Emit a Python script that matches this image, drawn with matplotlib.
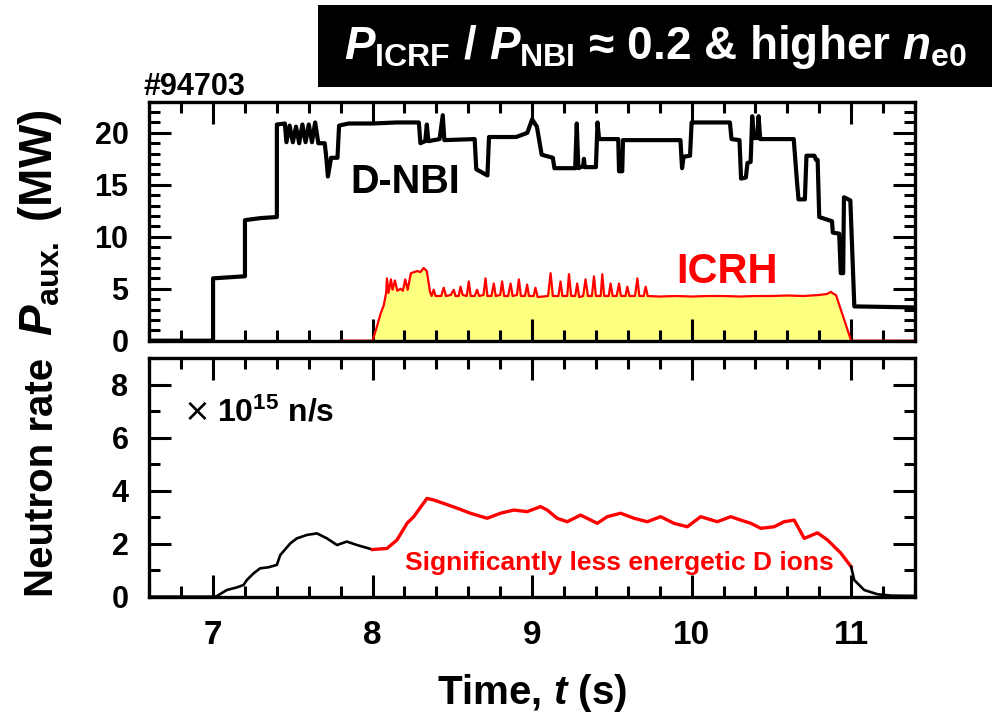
import matplotlib
matplotlib.use('Agg')
import matplotlib.pyplot as plt
from matplotlib import font_manager
from matplotlib.patches import Rectangle
from matplotlib.ticker import MultipleLocator

names = {f.name for f in font_manager.fontManager.ttflist}
FONT = 'Liberation Sans' if 'Liberation Sans' in names else 'DejaVu Sans'

plt.rcParams.update({
    'font.family': [FONT, 'DejaVu Sans'],
    'font.weight': 'bold',
    'axes.labelweight': 'bold',
    'mathtext.fontset': 'custom',
    'mathtext.rm': f'{FONT}:bold',
    'mathtext.it': f'{FONT}:italic:bold',
    'mathtext.bf': f'{FONT}:bold',
    'mathtext.sf': f'{FONT}:bold',
    'axes.linewidth': 2.4,
})

# ---------------- data ----------------
shot = '#94703'

nbi_t = [6.60, 7.00, 7.00, 7.10, 7.20, 7.20, 7.30, 7.40, 7.40, 7.45, 7.46, 7.48, 7.50,
         7.52, 7.54, 7.56, 7.58, 7.60, 7.62, 7.64, 7.66, 7.70, 7.71, 7.72, 7.74, 7.78,
         7.79, 7.85, 8.00, 8.15, 8.29, 8.30, 8.33, 8.34, 8.35, 8.42, 8.44, 8.45, 8.64,
         8.65, 8.72, 8.73, 8.90, 8.97, 9.00, 9.03, 9.06, 9.13, 9.14, 9.27, 9.28, 9.29,
         9.32, 9.325, 9.33, 9.40, 9.41, 9.42, 9.54, 9.545, 9.565, 9.57, 9.93, 9.94,
         9.95, 9.99, 10.00, 10.24, 10.25, 10.30, 10.31, 10.34, 10.35, 10.37, 10.38,
         10.39, 10.41, 10.42, 10.43, 10.64, 10.66, 10.67, 10.71, 10.72, 10.77, 10.78,
         10.79, 10.80, 10.88, 10.885, 10.925, 10.935, 10.95, 10.955, 10.995, 11.02, 11.40]
nbi_p = [0.0, 0.0, 6.0, 6.1, 6.2, 11.6, 11.8, 11.9, 20.8, 20.9, 19.1, 20.7, 19.1,
         20.6, 19.0, 20.8, 19.1, 20.8, 19.1, 21.0, 19.0, 19.0, 17.6, 15.8, 17.6, 17.6,
         20.7, 20.9, 20.9, 21.0, 21.0, 19.0, 19.2, 20.8, 19.2, 19.4, 21.7, 19.3, 19.4,
         16.5, 15.9, 19.6, 19.6, 20.0, 21.3, 20.6, 17.9, 17.6, 16.6, 16.6, 20.9, 16.6,
         16.8, 17.5, 16.7, 16.7, 21.0, 19.4, 19.4, 16.3, 16.3, 19.3, 19.3, 16.6,
         17.7, 17.8, 21.0, 21.0, 19.4, 19.3, 15.6, 15.7, 17.1, 17.2, 21.6,
         19.5, 19.5, 21.6, 19.4, 19.4, 15.4, 13.6, 13.6, 17.8, 17.8, 17.4,
         17.4, 11.9, 11.5, 10.4, 10.3, 6.5, 6.5, 13.8, 13.5, 3.3, 3.2]

icrh_t = [7.80, 8.00, 8.03, 8.05, 8.07, 8.085, 8.09, 8.10, 8.115, 8.125, 8.14, 8.155,
          8.175, 8.19, 8.205, 8.22, 8.24, 8.26, 8.28, 8.30, 8.32, 8.34, 8.36, 8.37,
          8.383, 8.395, 8.43, 8.446, 8.46, 8.49, 8.509, 8.52, 8.54, 8.551, 8.565,
          8.59, 8.603, 8.615, 8.64, 8.655, 8.668, 8.695, 8.708, 8.72, 8.745, 8.760,
          8.772, 8.80, 8.812, 8.825, 8.85, 8.865, 8.878, 8.905, 8.917, 8.93, 8.955,
          8.969, 8.98, 9.01, 9.021, 9.035, 9.10, 9.116, 9.13, 9.165, 9.178, 9.19,
          9.22, 9.231, 9.245, 9.27, 9.283, 9.295, 9.32, 9.335, 9.35, 9.375, 9.388,
          9.40, 9.43, 9.440, 9.452, 9.48, 9.492, 9.505, 9.53, 9.545, 9.557, 9.585,
          9.597, 9.61, 9.645, 9.660, 9.672, 9.70, 9.712, 9.725, 9.80, 9.90, 10.00,
          10.10, 10.20, 10.30, 10.40, 10.50, 10.60, 10.70, 10.80, 10.85, 10.873,
          10.89, 10.905, 11.00, 11.40]
icrh_p = [0.0, 0.0, 1.5, 2.6, 3.4, 4.6, 6.0, 4.6, 5.9, 4.9, 5.8, 4.8,
          5.0, 4.8, 5.9, 4.9, 6.5, 6.6, 6.7, 6.6, 7.0, 6.7, 4.7, 4.3,
          4.9, 4.3, 4.3, 5.1, 4.3, 4.4, 4.9, 4.3, 4.3, 5.2, 4.4,
          4.3, 5.7, 4.3, 4.3, 4.9, 4.3, 4.4, 6.0, 4.3, 4.3, 5.5,
          4.3, 4.4, 5.7, 4.3, 4.3, 5.5, 4.3, 4.4, 5.9, 4.3, 4.3,
          5.4, 4.3, 4.3, 5.1, 4.2, 4.3, 6.5, 4.3, 4.3, 5.7, 4.3,
          4.3, 6.4, 4.3, 4.3, 5.5, 4.2, 4.3, 5.9, 4.3, 4.3, 6.2,
          4.3, 4.3, 6.4, 4.3, 4.3, 5.5, 4.3, 4.3, 5.5, 4.3, 4.3,
          5.2, 4.3, 4.3, 6.0, 4.3, 4.3, 5.2, 4.3, 4.25, 4.3, 4.25,
          4.3, 4.3, 4.25, 4.3, 4.3, 4.35, 4.3, 4.4, 4.5, 4.7,
          4.5, 4.4, 0.0, 0.0]

# neutron rate (x 1e15 n/s): NBI-only phase, ICRH phase, after
neut_pre_t = [6.60, 7.013, 7.023, 7.086, 7.149, 7.191, 7.212, 7.254, 7.295, 7.348, 7.400,
              7.421, 7.484, 7.525, 7.588, 7.651, 7.714, 7.777, 7.839, 7.902, 8.00]
neut_pre = [0.0, 0.0, 0.02, 0.25, 0.35, 0.44, 0.63, 0.88, 1.07, 1.11, 1.20,
            1.57, 2.01, 2.20, 2.33, 2.39, 2.20, 1.95, 2.08, 1.95, 1.78]
neut_icrh_t = [8.00, 8.09, 8.153, 8.216, 8.258, 8.341, 8.383, 8.446, 8.530, 8.613, 8.718,
               8.802, 8.885, 8.969, 9.053, 9.095, 9.157, 9.220, 9.304, 9.409, 9.471,
               9.555, 9.639, 9.722, 9.806, 9.889, 9.973, 10.057, 10.161, 10.245, 10.308,
               10.371, 10.434, 10.517, 10.580, 10.643, 10.706, 10.789, 10.852, 10.936, 11.00]
neut_icrh = [1.78, 1.82, 2.14, 2.77, 3.02, 3.71, 3.65, 3.52, 3.34, 3.15, 2.96,
             3.15, 3.27, 3.21, 3.40, 3.27, 2.96, 2.83, 3.08, 2.77, 3.02,
             3.15, 2.96, 2.83, 3.02, 2.77, 2.64, 3.02, 2.83, 3.02, 2.89,
             2.77, 2.58, 2.64, 2.83, 2.89, 2.20, 2.41, 2.14, 1.64, 1.13]
neut_post_t = [11.00, 11.019, 11.082, 11.166, 11.250, 11.40]
neut_post = [1.13, 0.63, 0.25, 0.09, 0.04, 0.03]

# ---------------- figure ----------------
fig = plt.figure(figsize=(9.97, 7.15), dpi=100)
ax1 = fig.add_axes([0.1497, 0.5235, 0.768, 0.3343])
ax2 = fig.add_axes([0.1497, 0.1655, 0.768, 0.3334])

ax1.fill_between(icrh_t, icrh_p, 0, color='#ffff80', lw=0, zorder=1)
ax1.plot(icrh_t, icrh_p, color='#ff0000', lw=1.6, zorder=2)
ax1.plot(nbi_t, nbi_p, color='black', lw=3.0, zorder=3)

ax2.plot(neut_pre_t, neut_pre, color='black', lw=1.9)
ax2.plot(neut_icrh_t, neut_icrh, color='#ff0000', lw=2.4)
ax2.plot(neut_post_t, neut_post, color='black', lw=1.9)

for ax in (ax1, ax2):
    ax.set_xlim(6.6, 11.4)
    ax.xaxis.set_major_locator(MultipleLocator(1))
    ax.xaxis.set_minor_locator(MultipleLocator(0.2))
    ax.tick_params(which='both', direction='in', top=True, right=True, width=2.2)
    ax.tick_params(which='major', length=16)
    ax.tick_params(which='minor', length=8)
    ax.tick_params(axis='y', labelsize=22, pad=15)

ax1.set_ylim(0, 23)
ax1.yaxis.set_major_locator(MultipleLocator(5))
ax1.yaxis.set_minor_locator(MultipleLocator(1))
ax1.tick_params(labelbottom=False)

ax2.set_ylim(0, 9)
ax2.yaxis.set_major_locator(MultipleLocator(2))
ax2.yaxis.set_minor_locator(MultipleLocator(1))
ax2.tick_params(axis='x', labelsize=24, pad=17)

# labels
fig.text(0.040, 0.688, r'$P_{\mathrm{aux.}}$ (MW)', rotation=90, fontsize=33,
         ha='center', va='center')
fig.text(0.042, 0.332, 'Neutron rate', rotation=90, fontsize=29,
         ha='center', va='center')
ax2.set_xlabel(r'Time, $t$ (s)', fontsize=29, fontweight='bold', labelpad=15)

fig.text(143 / 997, 1 - 95 / 715, shot, fontsize=22, ha='left', va='baseline')

ax1.text(8.205, 14.24, 'D-NBI', fontsize=28.5, ha='center', va='baseline', zorder=4)
ax1.text(10.22, 5.55, 'ICRH', fontsize=30, color='#ff0000', ha='center',
         va='baseline', zorder=4)

ax2.text(0.0623, 0.771, '\u00d7', transform=ax2.transAxes, fontsize=23,
         fontweight='normal', family='DejaVu Sans', ha='center', va='center')
ax2.text(0.0884, 0.734, r'$10^{15}$ n/s', transform=ax2.transAxes, fontsize=23,
         ha='left', va='baseline')
ax2.text(8.203, 1.01, 'Significantly less energetic D ions', fontsize=19,
         color='#ff0000', ha='left', va='baseline')

# title box
fig.patches.append(Rectangle((318 / 997, 1 - 87 / 715), (992 - 318) / 997, (87 - 5) / 715,
                             transform=fig.transFigure, facecolor='black',
                             edgecolor='none', zorder=0))
fig.text(655 / 997, 1 - 47 / 715,
         r'$P_{\mathrm{ICRF}}$ / $P_{\mathrm{NBI}}$ ≈ 0.2 & higher $n_{\mathrm{e0}}$',
         color='white', fontsize=33, ha='center', va='center', zorder=5)

fig.savefig('out.png', dpi=100)
